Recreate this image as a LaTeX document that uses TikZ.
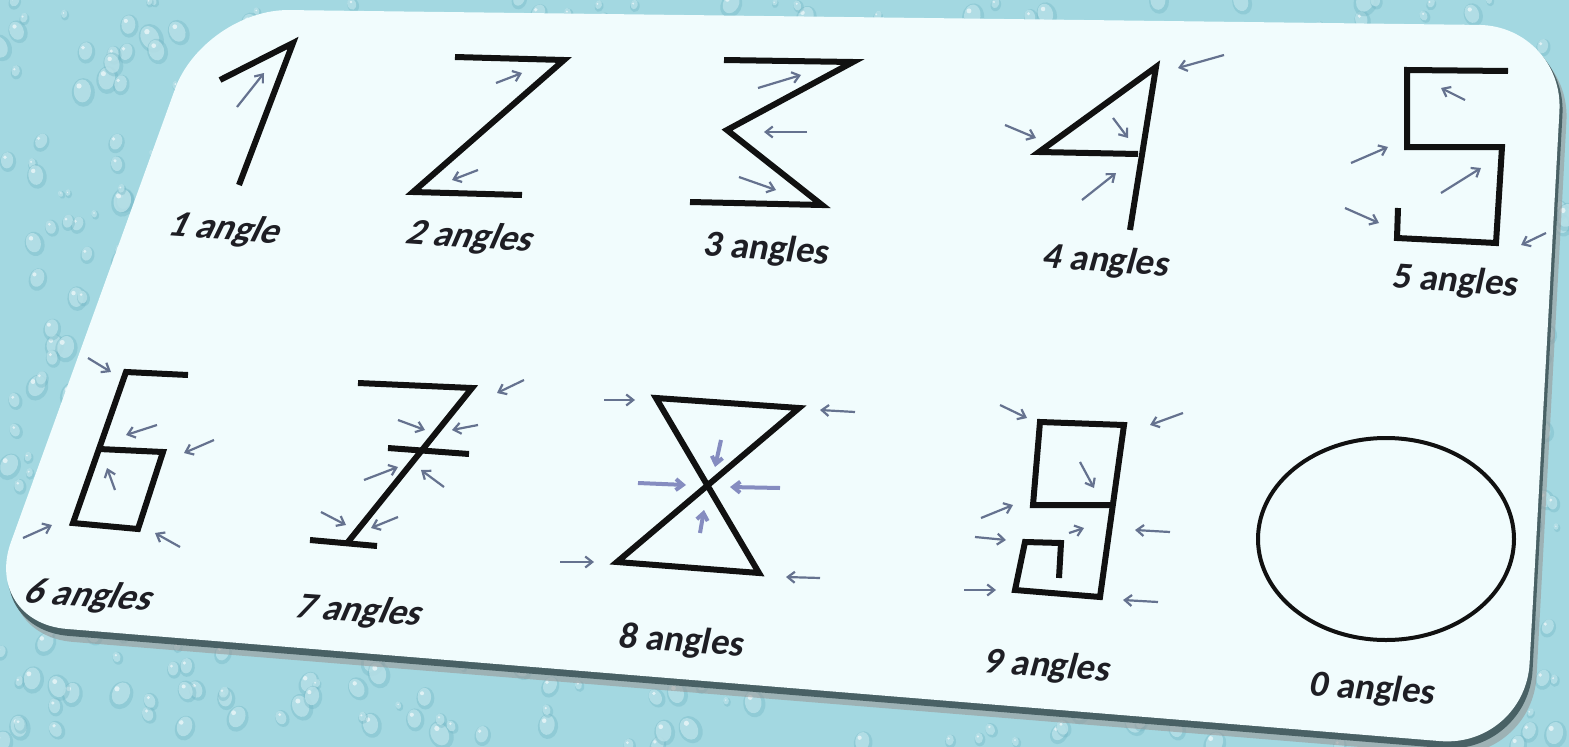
\documentclass[tikz,border=0pt]{standalone}
\usepackage{fontspec}
\setmainfont{Carlito}
\usetikzlibrary{arrows.meta}
\definecolor{dgtWater}{HTML}{A3D8E1}
\definecolor{dgtDrop}{HTML}{6FB3C2}
\definecolor{dgtCard}{HTML}{F1FCFD}
\definecolor{dgtInk}{HTML}{111111}
\definecolor{dgtArrow}{HTML}{65728F}
\definecolor{dgtText}{HTML}{1E1E24}

\begin{document}
\begin{tikzpicture}[x=1pt,y=-1pt,
    digit/.style={draw=dgtInk,line width=6,line cap=butt,line join=miter},
    arr/.style={-{Straight Barb[length=7,width=11]},draw=dgtArrow,line width=2.2},
    bigarr/.style={arr,draw=dgtArrow!80!blue!70!white,line width=4},
    lbl/.style={font=\fontsize{37}{39}\selectfont\bfseries,text=dgtText,
                rotate=-4,xslant=0.15,inner sep=0pt}]
  \useasboundingbox (0,0) rectangle (1569,747);
  \fill[dgtWater] (0,0) rectangle (1569,747);
  \pgfmathsetseed{11}
  \foreach \k in {1,...,900}{
    \pgfmathsetmacro{\px}{rnd*1569}
    \pgfmathsetmacro{\py}{rnd*747}
    \pgfmathsetmacro{\pr}{4+rnd*11}
    \pgfmathsetmacro{\pa}{rnd*60-30}
    \fill[dgtDrop,opacity=.35,rotate around={\pa:(\px,\py)}]
      (\px,\py) ellipse[x radius=0.8*\pr,y radius=\pr];
    \fill[dgtWater!75!white,opacity=.8,rotate around={\pa:(\px,\py)}]
      (\px-1,\py-1.5) ellipse[x radius=0.6*\pr,y radius=0.8*\pr];
    \fill[white,opacity=.6] (\px-0.3*\pr,\py-0.45*\pr) circle[radius=0.18*\pr];
  }
  % card with its edge
  \fill[black!40,opacity=.6,rounded corners=85]
    (210,17) -- (1571,36) -- (1532,761) -- (-12,635) -- cycle;
  \fill[black!55!dgtWater,rounded corners=85]
    (206,13) -- (1567,30) -- (1528,755) -- (-16,629) -- cycle;
  \fill[dgtCard,rounded corners=85]
    (204,9) -- (1564,26) -- (1525,748) -- (-18,622) -- cycle;

  % digits
  \draw[digit] (220,80) -- (293,43) -- (239,185);
  \draw[digit] (455,57) -- (564,60) -- (413,192) -- (522,195);
  \draw[digit] (724,60) -- (853,62) -- (727,130) -- (822,205) -- (690,202);
  \draw[digit] (1130,230) -- (1156,67) -- (1039,152) -- (1138,154);
  \draw[digit] (1508,71) -- (1407,70) -- (1407,147) -- (1502,147)
    -- (1496,243) -- (1397,238) -- (1398,208);
  \draw[digit] (188,375) -- (126,372) -- (73,523) -- (138,529)
    -- (163,452) -- (99,449);
  \draw[digit] (358,383) -- (472,388) -- (348,542);
  \draw[digit] (388,448) -- (469,454);
  \draw[digit] (310,540) -- (377,546);
  \draw[digit] (656,398) -- (799,408) -- (617,562) -- (759,573) -- cycle;
  \draw[digit] (1113,505) -- (1033,505) -- (1040,422) -- (1124,425)
    -- (1100,597) -- (1015,590) -- (1025,542) -- (1061,543) -- (1059,578);
  \draw[digit,line width=4] (1386,539) ellipse[x radius=128,y radius=101];

  % arrows at the angles
  \draw[arr] (237,107) -- (264,73);
  \draw[arr] (496,83) -- (522,73);
  \draw[arr] (478,170) -- (452,180);
  \draw[arr] (758,88) -- (801,75);
  \draw[arr] (807,132) -- (764,132);
  \draw[arr] (739,177) -- (776,190);
  \draw[arr] (1224,55) -- (1178,68);
  \draw[arr] (1005,125) -- (1036,138);
  \draw[arr] (1113,118) -- (1128,138);
  \draw[arr] (1082,200) -- (1116,173);
  \draw[arr] (1465,100) -- (1441,88);
  \draw[arr] (1351,163) -- (1388,147);
  \draw[arr] (1441,193) -- (1481,168);
  \draw[arr] (1345,208) -- (1379,223);
  \draw[arr] (1546,233) -- (1521,245);
  \draw[arr] (88,358) -- (111,372);
  \draw[arr] (157,425) -- (126,435);
  \draw[arr] (214,440) -- (184,453);
  \draw[arr] (115,490) -- (107,468);
  \draw[arr] (23,538) -- (52,525);
  \draw[arr] (180,547) -- (155,533);
  \draw[arr] (524,380) -- (497,393);
  \draw[arr] (398,420) -- (425,430);
  \draw[arr] (478,425) -- (452,430);
  \draw[arr] (364,480) -- (398,467);
  \draw[arr] (444,487) -- (421,470);
  \draw[arr] (321,512) -- (346,525);
  \draw[arr] (398,517) -- (371,528);
  \draw[arr] (604,400) -- (635,400);
  \draw[arr] (855,412) -- (820,410);
  \draw[bigarr] (721,440) -- (715,467);
  \draw[bigarr] (638,483) -- (686,485);
  \draw[bigarr] (780,488) -- (730,487);
  \draw[bigarr] (700,533) -- (704,510);
  \draw[arr] (560,562) -- (594,562);
  \draw[arr] (820,578) -- (786,577);
  \draw[arr] (1000,405) -- (1027,418);
  \draw[arr] (1183,413) -- (1150,425);
  \draw[arr] (1080,462) -- (1094,488);
  \draw[arr] (981,518) -- (1013,505);
  \draw[arr] (975,537) -- (1006,540);
  \draw[arr] (1069,533) -- (1084,528);
  \draw[arr] (964,590) -- (996,590);
  \draw[arr] (1170,532) -- (1135,530);
  \draw[arr] (1158,602) -- (1123,600);

  % labels
  \node[lbl,xslant=0.25] (one) at (226,230) {1 angle};
  \node[lbl,xslant=0.2] (two) at (471,238) {2 angles};
  \node[lbl] (three) at (767,250) {3 angles};
  \node[lbl,xslant=0.05] (four) at (1107,262) {4 angles};
  \node[lbl,xslant=0] (five) at (1456,282) {5 angles};
  \node[lbl,xslant=0.25] (six) at (90,597) {6 angles};
  \node[lbl,xslant=0.2] (seven) at (360,612) {7 angles};
  \node[lbl] (eight) at (682,642) {8 angles};
  \node[lbl,xslant=0.05] (nine) at (1048,667) {9 angles};
  \node[lbl,xslant=0] (zero) at (1373,690) {0 angles};
\end{tikzpicture}
\end{document}
